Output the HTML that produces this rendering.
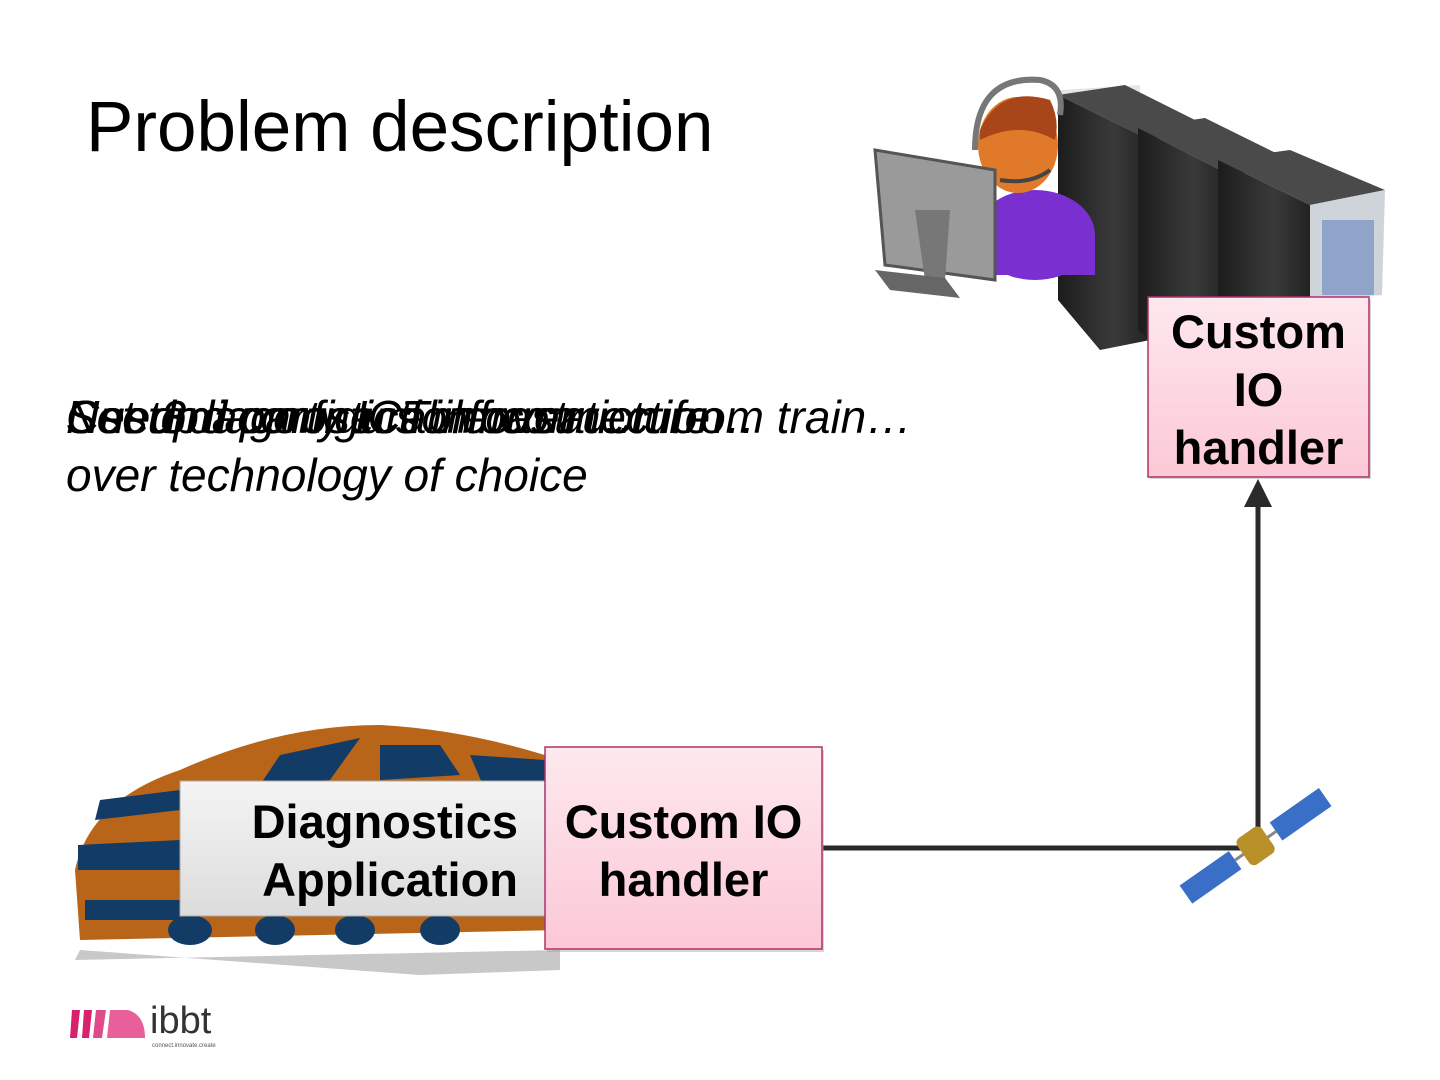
<!DOCTYPE html>
<html><head><meta charset="utf-8"><style>
html,body{margin:0;padding:0;background:#fff;width:1440px;height:1080px;overflow:hidden;font-family:"Liberation Sans",sans-serif}
.t{position:absolute;white-space:nowrap}
</style></head><body>
<svg width="1440" height="1080" style="position:absolute;left:0;top:0">
<defs>
<linearGradient id="pk" x1="0" y1="0" x2="0" y2="1"><stop offset="0" stop-color="#fde8ee"/><stop offset="1" stop-color="#fcc8d6"/></linearGradient>
<linearGradient id="gr" x1="0" y1="0" x2="0" y2="1"><stop offset="0" stop-color="#f4f4f4"/><stop offset="1" stop-color="#dcdcdc"/></linearGradient>
<linearGradient id="srv" x1="0" y1="0" x2="1" y2="0"><stop offset="0" stop-color="#1c1c1c"/><stop offset="0.6" stop-color="#3a3a3a"/><stop offset="1" stop-color="#222"/></linearGradient>
</defs>
<polygon points="1060,90 1140,85 1140,330 1100,340 1060,300" fill="#555" opacity="0.15"/>
<polygon points="1058,95 1125,85 1215,130 1150,140" fill="#4a4a4a"/>
<polygon points="1058,95 1150,140 1150,340 1100,350 1058,300" fill="url(#srv)"/>
<polygon points="1138,128 1205,118 1300,165 1230,175" fill="#4a4a4a"/>
<polygon points="1138,128 1230,175 1230,320 1150,340 1138,330" fill="url(#srv)"/>
<polygon points="1218,160 1290,150 1385,190 1310,205" fill="#4a4a4a"/>
<polygon points="1218,160 1310,205 1310,300 1218,300" fill="url(#srv)"/>
<polygon points="1310,205 1385,190 1382,295 1310,300" fill="#cfd3da"/>
<rect x="1322" y="220" width="52" height="75" fill="#8fa4c8"/>
<ellipse cx="1035" cy="235" rx="60" ry="45" fill="#7a2fd0"/>
<rect x="975" y="235" width="120" height="40" fill="#7a2fd0"/>
<ellipse cx="1018" cy="145" rx="40" ry="48" fill="#e07a2a"/>
<path d="M980 130 Q1000 85 1050 100 Q1060 120 1055 140 Q1020 120 980 140Z" fill="#a8461a"/>
<path d="M975 150 Q975 75 1040 80 Q1065 85 1060 115" stroke="#777" stroke-width="6" fill="none"/>
<path d="M1000 180 Q1030 185 1050 170" stroke="#444" stroke-width="4" fill="none"/>
<polygon points="875,150 995,170 995,280 885,265" fill="#9a9a9a" stroke="#555" stroke-width="3"/>
<polygon points="915,210 950,210 945,280 925,280" fill="#777"/>
<polygon points="875,270 945,278 960,298 890,290" fill="#666"/>
<path d="M75,870 Q90,800 180,770 Q280,725 380,725 Q470,730 560,760 L560,930 L80,940 Z" fill="#b8651a"/>
<path d="M75,960 L560,950 L560,970 L420,975 L80,950 Z" fill="#c8c8c8"/>
<polygon points="78,845 180,840 180,870 78,870" fill="#123b66"/>
<polygon points="85,900 180,900 180,920 85,920" fill="#123b66"/>
<polygon points="280,755 360,738 330,780 260,785" fill="#123b66"/>
<polygon points="380,745 440,745 460,775 380,780" fill="#123b66"/>
<polygon points="470,755 545,760 550,800 485,790" fill="#123b66"/>
<polygon points="100,800 180,790 180,810 95,820" fill="#123b66"/>
<ellipse cx="190" cy="930" rx="22" ry="15" fill="#123b66"/>
<ellipse cx="275" cy="930" rx="20" ry="15" fill="#123b66"/>
<ellipse cx="355" cy="930" rx="20" ry="15" fill="#123b66"/>
<ellipse cx="440" cy="930" rx="20" ry="15" fill="#123b66"/>
<line x1="823" y1="848" x2="1258" y2="848" stroke="#2a2a2a" stroke-width="5"/>
<line x1="1258" y1="848" x2="1258" y2="505" stroke="#2a2a2a" stroke-width="5"/>
<polygon points="1244,507 1258,479 1272,507" fill="#2a2a2a"/>
<g transform="rotate(-35 1255 845)">
<rect x="1170" y="835" width="60" height="22" fill="#3a6fc8"/>
<rect x="1280" y="835" width="60" height="22" fill="#3a6fc8"/>
<line x1="1230" y1="846" x2="1280" y2="846" stroke="#888" stroke-width="3"/>
<rect x="1240" y="830" width="30" height="32" rx="6" fill="#b8902a"/>
</g>
<rect x="180" y="781" width="368" height="135" fill="url(#gr)" stroke="#aaa" stroke-width="1"/>
<rect x="547" y="750" width="277" height="202" fill="#999" opacity="0.4"/>
<rect x="545" y="747" width="277" height="202" fill="url(#pk)" stroke="#b0306a" stroke-width="1.5"/>
<rect x="1150" y="299" width="221" height="180" fill="#999" opacity="0.4"/>
<rect x="1148" y="297" width="221" height="180" fill="url(#pk)" stroke="#b0306a" stroke-width="1.5"/>
<polygon points="72,1010 80,1010 77,1038 70,1038" fill="#d9206e"/>
<polygon points="84,1010 92,1010 89,1038 82,1038" fill="#d9206e"/>
<polygon points="96,1010 106,1010 102,1038 93,1038" fill="#e04a8a"/>
<path d="M110,1010 L128,1010 Q145,1015 145,1038 L107,1038 Z" fill="#e8609a"/>
</svg>
<div class="t" style="left:86px;top:87px;font-size:71px;color:#000">Problem description</div>
<div class="t" style="left:66px;top:388px;font-size:46px;font-style:italic;color:#000;line-height:58px">Need diagnostics information from train…</div>
<div class="t" style="left:66px;top:388px;font-size:46px;font-style:italic;color:#000;line-height:58px">Use 3rd party ICT infrastructure…</div>
<div class="t" style="left:66px;top:388px;font-size:46px;font-style:italic;color:#000;line-height:58px">Set up a connection over …</div>
<div class="t" style="left:66px;top:388px;font-size:46px;font-style:italic;color:#000;line-height:58px">Custom configurable connection<br>over technology of choice</div>
<div class="t" style="left:180px;top:793px;width:338px;text-align:right;font-size:47px;font-weight:bold;line-height:58px">Diagnostics<br>Application</div>
<div class="t" style="left:545px;top:793px;width:277px;text-align:center;font-size:47px;font-weight:bold;line-height:58px">Custom IO<br>handler</div>
<div class="t" style="left:1148px;top:303px;width:221px;text-align:center;font-size:47px;font-weight:bold;line-height:58px">Custom<br>IO<br>handler</div>
<div class="t" style="left:150px;top:1000px;font-size:38px;color:#333">ibbt</div>
<div class="t" style="left:152px;top:1043px;font-size:6px;color:#555">connect.innovate.create</div>
</body></html>
